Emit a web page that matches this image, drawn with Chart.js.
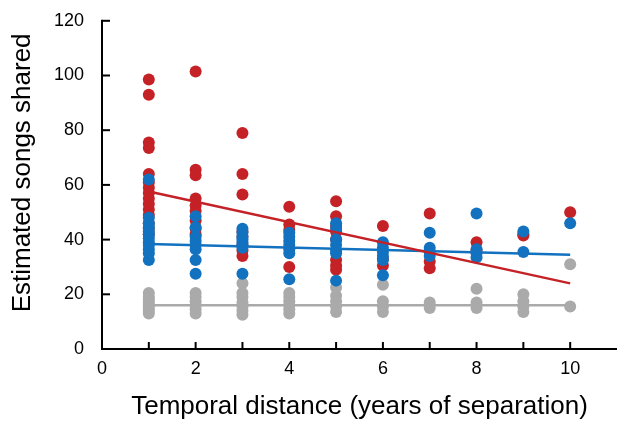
<!DOCTYPE html>
<html>
<head>
<meta charset="utf-8">
<script src="https://cdn.jsdelivr.net/npm/chart.js@4.4.1/dist/chart.umd.min.js"></script>
<style>
  html, body { margin: 0; padding: 0; background: #fff; }
  #wrap { width: 618px; height: 422px; }
</style>
</head>
<body>
<div id="wrap"><canvas id="songs"></canvas></div>
<script>
// years of separation, one column of dots per year
var years = [1, 2, 3, 4, 5, 6, 7, 8, 9, 10];

// estimated songs shared, per year
var redSongs = [
  [98.5, 93, 75.5, 73.5, 64, 61, 59, 57, 55, 53, 51, 49, 46, 44, 42],
  [101.5, 65.5, 63.5, 55, 52.5, 50.5, 47, 44, 42],
  [79, 64, 56.5, 43, 41, 38, 36, 34],
  [52, 45.5, 43.5, 30],
  [54, 48.5, 45, 43, 40, 32.5, 30.5, 29],
  [45, 33, 30.5],
  [49.5, 32, 29.5],
  [39, 36],
  [42, 41.5],
  [50]
];
var blueSongs = [
  [62, 48, 46, 44.5, 43, 42, 40.5, 39, 38, 36.5, 35, 32.5],
  [48.5, 44.5, 41, 39.5, 38, 36.5, 32.5, 27.5],
  [44, 42.5, 41, 40, 39, 38, 37, 27.5],
  [42.5, 41, 39.5, 38, 36.5, 35, 25.5],
  [46, 44, 40, 38, 36, 35, 25],
  [39, 37, 35.5, 34, 32.5, 27],
  [42.5, 37, 35.5, 34],
  [49.5, 36.5, 35, 33.5],
  [43, 35.5],
  [46]
];
var greySongs = [
  [20.5, 19, 18, 17, 16, 15, 14, 13],
  [20.5, 19, 17.5, 16, 14.5, 13],
  [24, 20.5, 19, 17, 15.5, 14, 12.5],
  [20.5, 19, 17.5, 16, 14.5, 13],
  [22.5, 19.5, 17.5, 15.5, 13.5],
  [23.5, 17.5, 15.5, 13.5],
  [17, 15],
  [22, 17, 15],
  [20, 17.5, 15.5, 13.5],
  [31, 15.5]
];

// fitted lines, value at first and last year
var fitYears = [1, 10];
var redFit = [57.6, 24];
var blueFit = [38.4, 34.5];
var greyFit = [16, 16];

var RED = 'rgb(196,34,38)';
var BLUE = 'rgb(18,114,192)';
var GREY = 'rgb(170,170,170)';
var yTitle = 'Estimated songs shared';

function toPoints(cols) {
  var pts = [];
  cols.forEach(function (vals, i) {
    vals.forEach(function (v) { pts.push({ x: years[i], y: v }); });
  });
  return pts;
}
function fitPoints(vals) {
  return fitYears.map(function (x, i) { return { x: x, y: vals[i] }; });
}

function dots(data, color, order) {
  return { data: toPoints(data), backgroundColor: color, borderWidth: 0,
           pointRadius: 6, pointHoverRadius: 6, order: order };
}
function fit(data, color, order) {
  return { data: fitPoints(data), showLine: true, borderColor: color, borderWidth: 2.5,
           pointRadius: 0, fill: false, order: order };
}

// axis lines, inward tick marks and the y title
var axesPlugin = {
  id: 'axesPlugin',
  afterDraw: function (chart) {
    var ctx = chart.ctx, x = chart.scales.x, y = chart.scales.y;
    ctx.save();
    ctx.fillStyle = '#000';
    // axis lines
    ctx.fillRect(x.left - 1, y.top - 1, 2, y.bottom - y.top + 2);
    ctx.fillRect(x.left - 1, y.bottom - 1, x.right - x.left + 1, 2);
    // ticks pointing into the plot
    x.ticks.forEach(function (t) {
      if (t.value < 1 || t.value > 10) return;
      var px = x.getPixelForValue(t.value);
      ctx.fillRect(px - 1, y.bottom - 7, 2, 7);
    });
    y.ticks.forEach(function (t) {
      if (t.value <= 0) return;
      var py = y.getPixelForValue(t.value);
      ctx.fillRect(x.left, py - 1, 8, 2);
    });

    ctx.translate(23, (y.top + y.bottom) / 2 - 12);
    ctx.rotate(-Math.PI / 2);
    ctx.font = "26px 'Liberation Sans', Arial, sans-serif";
    ctx.textAlign = 'center';
    ctx.textBaseline = 'middle';
    ctx.fillText(yTitle, 0, 0);
    ctx.restore();
  }
};

Chart.defaults.font.family = "'Liberation Sans', Arial, sans-serif";
Chart.defaults.color = '#000';

new Chart(document.getElementById('songs'), {
  type: 'scatter',
  data: {
    datasets: [
      fit(redFit, RED, 0),
      fit(blueFit, BLUE, 1),
      fit(greyFit, GREY, 2),
      dots(blueSongs, BLUE, 3),
      dots(redSongs, RED, 4),
      dots(greySongs, GREY, 5)
    ]
  },
  options: {
    responsive: true,
    maintainAspectRatio: false,
    animation: false,
    layout: { autoPadding: false, padding: { top: 19, right: 0, left: 0, bottom: 0 } },
    plugins: { legend: { display: false }, tooltip: { enabled: false } },
    scales: {
      x: {
        type: 'linear', min: 0, max: 11,
        grid: { display: false },
        border: { display: false },
        ticks: {
          stepSize: 1, autoSkip: false, maxRotation: 0, padding: 1,
          font: { size: 18 },
          callback: function (v) { return (v % 2 === 0 && v <= 10) ? v : ''; }
        },
        title: { display: true, text: 'Temporal distance (years of separation)',
                 font: { size: 26 }, padding: { top: 4, bottom: 0 } },
        afterFit: function (s) { s.height = 73; }
      },
      y: {
        min: 0, max: 120,
        grid: { display: false },
        border: { display: false },
        ticks: { stepSize: 20, padding: 10, font: { size: 18 } },
        afterFit: function (s) { s.width = 102; }
      }
    }
  },
  plugins: [axesPlugin]
});
</script>
</body>
</html>
